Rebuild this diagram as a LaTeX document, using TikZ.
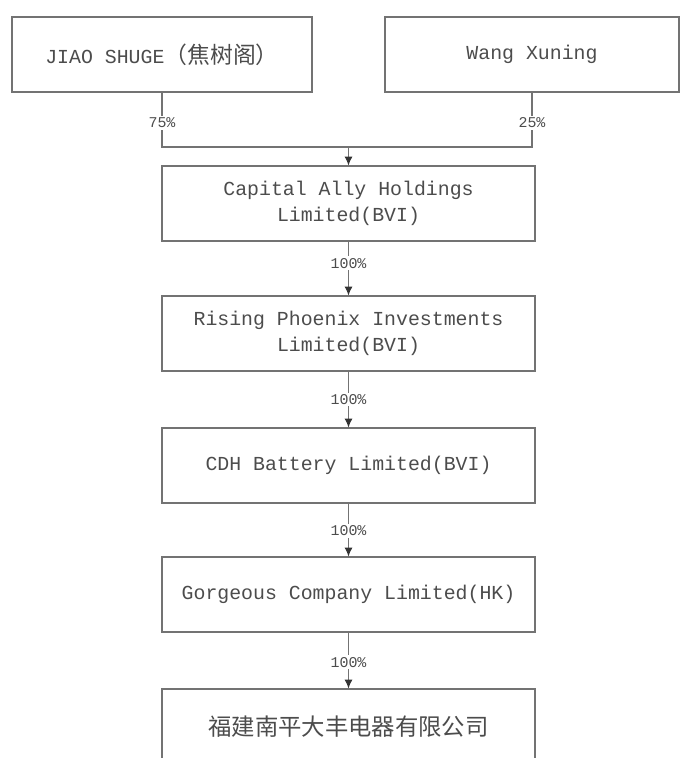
\documentclass[tikz,border=0pt]{standalone}
\usepackage{fontspec}
\setmainfont{Liberation Mono}
\newfontfamily\cjk{Noto Sans CJK SC}
\usetikzlibrary{arrows.meta}
\definecolor{trait}{gray}{0.45}
\definecolor{texte}{gray}{0.3}

\begin{document}
\begin{tikzpicture}[line width=0.6pt,
    every node/.style={text=texte},
    boite/.style={draw=trait, rectangle, minimum height=1.5cm, align=center,
      font=\fontsize{11.3}{15}\selectfont},
    taux/.style={fill=white, inner sep=1pt, font=\fontsize{8.5}{10}\selectfont},
    fleche/.style={draw=trait, -{Latex[length=5pt,width=4.5pt,color=black!80]}}]
    % cadre
    \useasboundingbox (0,0) rectangle (13.6,-15.16);
    % actionnaires
    \node[boite, minimum width=6cm] (jiao) at (3.24,-1.09)
      {JIAO SHUGE{\cjk\fontsize{13}{15}\selectfont （焦树阁）}};
    \node[boite, minimum width=5.88cm] (wang) at (10.64,-1.09) {Wang Xuning};
    % sociétés
    \node[boite, minimum width=7.46cm] (capital) at (6.97,-4.07)
      {Capital Ally Holdings\\Limited(BVI)};
    \node[boite, minimum width=7.46cm] (rising) at (6.97,-6.67)
      {Rising Phoenix Investments\\Limited(BVI)};
    \node[boite, minimum width=7.46cm] (cdh) at (6.97,-9.31)
      {CDH Battery Limited(BVI)};
    \node[boite, minimum width=7.46cm] (gorgeous) at (6.97,-11.89)
      {Gorgeous Company Limited(HK)};
    \node[boite, minimum width=7.46cm] (fujian) at (6.97,-14.53)
      {\cjk\fontsize{13.3}{15}\selectfont 福建南平大丰电器有限公司};
    % liaisons
    \coordinate (jonction) at (6.97,-2.94);
    \draw[draw=trait] (jiao.south) -- node[taux, pos=0.56] {75\%} (jiao.south |- jonction)
      -- (wang.south |- jonction) -- node[taux, pos=0.44] {25\%} (wang.south);
    \draw[fleche] (jonction) -- (capital);
    \draw[fleche] (capital) -- node[taux, pos=0.4] {100\%} (rising);
    \draw[fleche] (rising) -- node[taux, pos=0.5] {100\%} (cdh);
    \draw[fleche] (cdh) -- node[taux, pos=0.52] {100\%} (gorgeous);
    \draw[fleche] (gorgeous) -- node[taux, pos=0.53] {100\%} (fujian);
  \end{tikzpicture}
\end{document}
